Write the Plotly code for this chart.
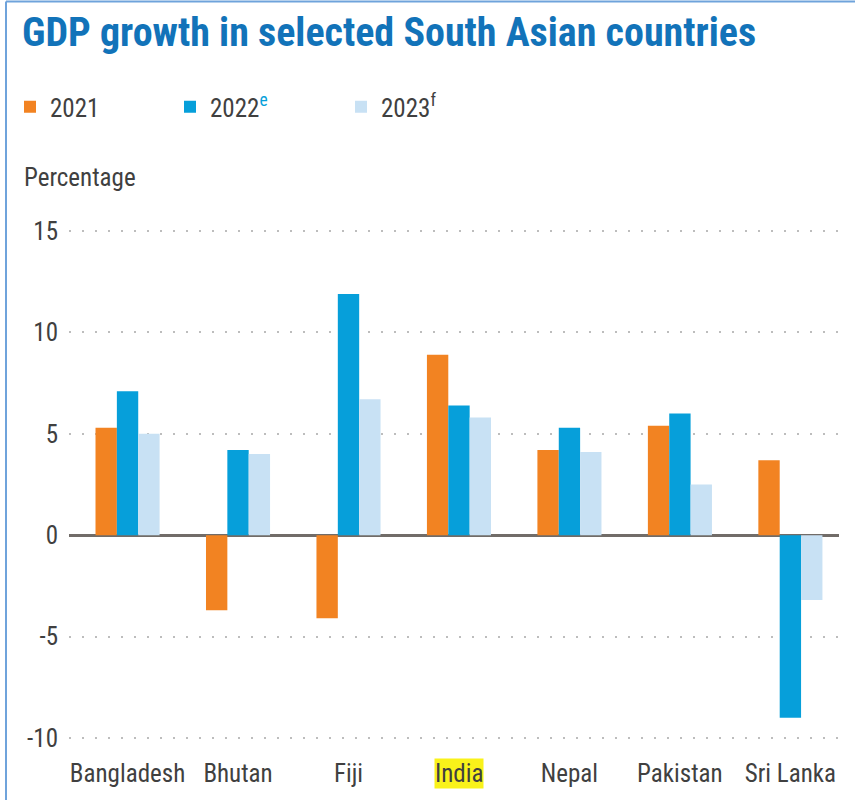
import plotly.graph_objects as go

countries = ["Bangladesh", "Bhutan", "Fiji", "India", "Nepal", "Pakistan", "Sri Lanka"]
gdp_2021 = [5.3, -3.7, -4.1, 8.9, 4.2, 5.4, 3.7]
gdp_2022 = [7.1, 4.2, 11.9, 6.4, 5.3, 6.0, -9.0]
gdp_2023 = [5.0, 4.0, 6.7, 5.8, 4.1, 2.5, -3.2]
y_ticks = [-10, -5, 0, 5, 10, 15]
highlight = "India"

W, H = 855, 800
L, R, T, B = 69, 16, 227, 56
PW, PH = W - L - R, H - T - B

def px(p):
    return (p - L) / PW

def py(p):
    return (H - B - p) / PH

FONT = "Liberation Sans Narrow, Roboto Condensed, Roboto, sans-serif"
TXT = "#404040"
FS = 25
C21, C22, C23 = "#F28322", "#069FDA", "#C8E1F4"

fig = go.Figure()
series = [
    ("2021", gdp_2021, C21, "legend"),
    ("2022<sup><span style='color:#069FDA'>e</span></sup>", gdp_2022, C22, "legend2"),
    ("2023<sup>f</sup>", gdp_2023, C23, "legend3"),
]
for name, vals, col, lg in series:
    fig.add_trace(go.Bar(x=countries, y=vals, name=name, marker=dict(color=col, line=dict(width=0)),
                         legend=lg))

leg_common = dict(orientation="h", font=dict(family=FONT, size=FS, color=TXT),
                  bgcolor="rgba(0,0,0,0)", yanchor="middle", xanchor="left",
                  itemsizing="constant", traceorder="normal")
fig.update_layout(
    width=W, height=H,
    margin=dict(l=L, r=R, t=T, b=B, pad=0, autoexpand=False),
    paper_bgcolor="white", plot_bgcolor="white",
    barmode="group", bargap=0.42, bargroupgap=0,
    title=dict(text="<b>GDP growth in selected South Asian countries</b>",
               x=22 / W, xanchor="left", xref="container",
               y=1 - 32 / H, yanchor="middle", yref="container",
               font=dict(family=FONT, size=40, color="#1273B9")),
    legend=dict(x=px(10), y=py(107), **leg_common),
    legend2=dict(x=px(170), y=py(107), **leg_common),
    legend3=dict(x=px(341), y=py(107), **leg_common),
    xaxis=dict(
        type="category", range=[-0.53, 6.44],
        tickmode="array", tickvals=countries,
        ticktext=[("" if c == highlight else c) for c in countries],
        showgrid=False, zeroline=False, showline=False, ticks="",
        tickfont=dict(family=FONT, size=FS, color=TXT),
        ticklabelstandoff=12,
    ),
    yaxis=dict(
        range=[-10.3, 15.2], tickmode="array", tickvals=y_ticks,
        ticktext=[str(v) for v in y_ticks],
        showgrid=True, gridcolor="#BDBDBD", gridwidth=2, griddash="2px,11px",
        zeroline=True, zerolinecolor="#716C68", zerolinewidth=3,
        showline=False, ticks="",
        tickfont=dict(family=FONT, size=FS, color=TXT),
        ticklabelstandoff=10,
    ),
    showlegend=True,
)

fig.add_annotation(x=highlight, y=py(773), xref="x", yref="paper", text=highlight,
                   showarrow=False, bgcolor="#F9F21A", borderpad=0,
                   font=dict(family=FONT, size=FS, color=TXT), yanchor="middle")
fig.add_annotation(x=px(22), y=py(177), xref="paper", yref="paper", text="Percentage",
                   showarrow=False, xanchor="left", yanchor="middle",
                   font=dict(family=FONT, size=FS, color=TXT))

# frame lines
fig.add_shape(type="line", xref="paper", yref="paper", x0=px(6), x1=px(6), y0=py(1.5), y1=py(800),
              line=dict(color="#6FA3DB", width=2))
fig.add_shape(type="line", xref="paper", yref="paper", x0=px(6), x1=px(855), y0=py(1.5), y1=py(1.5),
              line=dict(color="#6FA3DB", width=2))

fig.write_html("out.html", config={"displayModeBar": False},
               post_script="document.body.style.margin='0';")
